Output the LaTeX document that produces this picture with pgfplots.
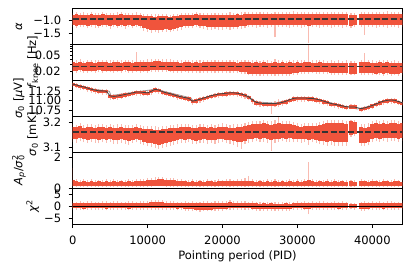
\documentclass[border=0pt]{standalone}
\usepackage{fontspec}
\setmainfont{DejaVu Sans}
\usepackage{pgfplots}
\pgfplotsset{compat=1.18}
\usepackage{pgfplotstable}
\usepgfplotslibrary{groupplots}
\definecolor{bandred}{RGB}{240,84,60}

\pgfplotstableread{
x lo hi lo2 hi2
0 -1.19 -0.80 -1.27 -0.72
500 -1.21 -0.79 -1.30 -0.70
1000 -1.18 -0.81 -1.26 -0.74
1500 -1.20 -0.80 -1.28 -0.71
2000 -1.22 -0.82 -1.31 -0.75
2500 -1.19 -0.79 -1.27 -0.70
3000 -1.20 -0.81 -1.29 -0.73
3500 -1.21 -0.80 -1.30 -0.72
4000 -1.18 -0.79 -1.26 -0.69
4500 -1.20 -0.81 -1.28 -0.74
5000 -1.22 -0.80 -1.33 -0.72
5500 -1.19 -0.82 -1.27 -0.75
6000 -1.21 -0.80 -1.29 -0.71
6500 -1.20 -0.79 -1.28 -0.70
7000 -1.22 -0.81 -1.32 -0.73
7500 -1.19 -0.80 -1.27 -0.72
8000 -1.21 -0.82 -1.30 -0.74
8500 -1.20 -0.80 -1.28 -0.71
9000 -1.23 -0.81 -1.31 -0.73
9500 -1.30 -0.84 -1.40 -0.76
10000 -1.35 -0.86 -1.45 -0.78
10500 -1.37 -0.85 -1.47 -0.77
11000 -1.36 -0.87 -1.46 -0.79
11500 -1.38 -0.86 -1.48 -0.78
12000 -1.37 -0.85 -1.45 -0.76
12500 -1.35 -0.86 -1.44 -0.78
13000 -1.36 -0.87 -1.46 -0.80
13500 -1.33 -0.85 -1.42 -0.77
14000 -1.30 -0.84 -1.40 -0.76
14500 -1.27 -0.83 -1.36 -0.75
15000 -1.23 -0.81 -1.31 -0.73
15500 -1.21 -0.80 -1.29 -0.72
16000 -1.22 -0.81 -1.30 -0.74
16500 -1.20 -0.79 -1.28 -0.71
17000 -1.23 -0.81 -1.31 -0.73
17500 -1.24 -0.80 -1.32 -0.72
18000 -1.27 -0.82 -1.36 -0.74
18500 -1.28 -0.81 -1.37 -0.73
19000 -1.26 -0.82 -1.35 -0.75
19500 -1.27 -0.80 -1.38 -0.72
20000 -1.28 -0.81 -1.36 -0.73
20500 -1.26 -0.82 -1.34 -0.74
21000 -1.27 -0.80 -1.37 -0.71
21500 -1.25 -0.81 -1.34 -0.73
22000 -1.26 -0.79 -1.35 -0.72
22500 -1.24 -0.80 -1.33 -0.71
23000 -1.22 -0.79 -1.30 -0.70
23500 -1.20 -0.78 -1.28 -0.69
24000 -1.19 -0.79 -1.27 -0.71
24500 -1.20 -0.78 -1.29 -0.70
25000 -1.18 -0.79 -1.26 -0.71
25500 -1.19 -0.77 -1.28 -0.69
26000 -1.20 -0.78 -1.29 -0.70
26500 -1.18 -0.79 -1.27 -0.72
27000 -1.19 -0.78 -1.65 -0.70
27500 -1.20 -0.77 -1.28 -0.69
28000 -1.18 -0.78 -1.27 -0.70
28500 -1.19 -0.79 -1.28 -0.71
29000 -1.20 -0.78 -1.29 -0.70
29500 -1.18 -0.77 -1.26 -0.68
30000 -1.19 -0.78 -1.28 -0.70
30500 -1.20 -0.79 -1.29 -0.71
31000 -1.19 -0.78 -1.27 -0.70
31500 -1.21 -0.78 -1.85 -0.69
32000 -1.19 -0.77 -1.28 -0.70
32500 -1.18 -0.78 -1.27 -0.71
33000 -1.20 -0.79 -1.29 -0.70
33500 -1.19 -0.77 -1.28 -0.69
34000 -1.18 -0.78 -1.26 -0.70
34500 -1.20 -0.77 -1.29 -0.69
35000 -1.19 -0.78 -1.28 -0.71
35500 -1.18 -0.77 -1.27 -0.70
36000 -1.20 -0.78 -1.29 -0.70
36500 -1.19 -0.79 -1.27 -0.71
37150 -1.22 -0.80 -1.30 -0.74
37650 -1.20 -0.81 -1.28 -0.75
38500 -1.19 -0.78 -1.28 -0.70
39000 -1.20 -0.77 -1.56 -0.69
39500 -1.18 -0.78 -1.27 -0.70
40000 -1.19 -0.77 -1.28 -0.69
40500 -1.20 -0.78 -1.29 -0.70
41000 -1.18 -0.77 -1.27 -0.69
41500 -1.19 -0.78 -1.28 -0.70
42000 -1.20 -0.77 -1.29 -0.68
42500 -1.18 -0.78 -1.27 -0.70
43000 -1.19 -0.77 -1.28 -0.69
43500 -1.20 -0.78 -1.29 -0.70
44000 -1.19 -0.77 -1.28 -0.69
}\tabA

\pgfplotstableread{
x lo hi lo2 hi2
0 0.0212 0.0335 0.0192 0.0380
500 0.0208 0.0330 0.0188 0.0372
1000 0.0214 0.0338 0.0195 0.0390
1500 0.0210 0.0328 0.0190 0.0368
2000 0.0206 0.0333 0.0186 0.0378
2500 0.0211 0.0336 0.0193 0.0385
3000 0.0209 0.0329 0.0189 0.0370
3500 0.0213 0.0334 0.0194 0.0382
4000 0.0207 0.0331 0.0187 0.0375
4500 0.0210 0.0337 0.0191 0.0388
5000 0.0212 0.0330 0.0193 0.0372
5500 0.0208 0.0335 0.0188 0.0380
6000 0.0211 0.0332 0.0192 0.0376
6500 0.0209 0.0328 0.0189 0.0369
7000 0.0213 0.0336 0.0195 0.0384
7500 0.0210 0.0333 0.0190 0.0378
8000 0.0207 0.0330 0.0186 0.0373
8500 0.0211 0.0338 0.0192 0.0600
9000 0.0209 0.0331 0.0189 0.0376
9500 0.0212 0.0335 0.0193 0.0381
10000 0.0210 0.0340 0.0190 0.0392
10500 0.0213 0.0345 0.0194 0.0398
11000 0.0215 0.0350 0.0196 0.0405
11500 0.0214 0.0352 0.0195 0.0410
12000 0.0216 0.0348 0.0197 0.0402
12500 0.0213 0.0346 0.0194 0.0396
13000 0.0211 0.0342 0.0192 0.0390
13500 0.0209 0.0337 0.0189 0.0383
14000 0.0210 0.0333 0.0190 0.0377
14500 0.0208 0.0330 0.0188 0.0372
15000 0.0211 0.0334 0.0192 0.0380
15500 0.0209 0.0331 0.0189 0.0375
16000 0.0206 0.0329 0.0185 0.0371
16500 0.0208 0.0333 0.0187 0.0379
17000 0.0205 0.0330 0.0184 0.0374
17500 0.0207 0.0335 0.0186 0.0383
18000 0.0204 0.0332 0.0183 0.0378
18500 0.0206 0.0336 0.0185 0.0386
19000 0.0205 0.0331 0.0184 0.0376
19500 0.0207 0.0334 0.0186 0.0381
20000 0.0206 0.0338 0.0185 0.0389
20500 0.0204 0.0333 0.0183 0.0379
21000 0.0207 0.0336 0.0186 0.0385
21500 0.0205 0.0332 0.0184 0.0377
22000 0.0203 0.0330 0.0182 0.0373
22500 0.0200 0.0334 0.0180 0.0381
23000 0.0195 0.0331 0.0175 0.0376
23500 0.0180 0.0333 0.0162 0.0379
24000 0.0176 0.0329 0.0158 0.0370
24500 0.0178 0.0331 0.0160 0.0375
25000 0.0175 0.0328 0.0157 0.0368
25500 0.0177 0.0332 0.0159 0.0377
26000 0.0174 0.0330 0.0156 0.0372
26500 0.0176 0.0327 0.0158 0.0366
27000 0.0175 0.0331 0.0157 0.0400
27500 0.0177 0.0329 0.0159 0.0370
28000 0.0174 0.0332 0.0156 0.0376
28500 0.0176 0.0328 0.0158 0.0368
29000 0.0178 0.0331 0.0160 0.0374
29500 0.0182 0.0329 0.0163 0.0370
30000 0.0190 0.0332 0.0170 0.0377
30500 0.0196 0.0330 0.0176 0.0372
31000 0.0200 0.0333 0.0180 0.0378
31500 0.0198 0.0335 0.0178 0.0850
32000 0.0201 0.0330 0.0181 0.0373
32500 0.0199 0.0328 0.0179 0.0369
33000 0.0197 0.0331 0.0177 0.0375
33500 0.0195 0.0329 0.0175 0.0371
34000 0.0193 0.0327 0.0173 0.0367
34500 0.0190 0.0330 0.0170 0.0373
35000 0.0188 0.0326 0.0168 0.0365
35500 0.0186 0.0329 0.0166 0.0371
36000 0.0188 0.0327 0.0168 0.0367
36500 0.0187 0.0330 0.0167 0.0372
37150 0.0180 0.0330 0.0165 0.0360
37650 0.0178 0.0326 0.0163 0.0355
38500 0.0185 0.0335 0.0166 0.0380
39000 0.0183 0.0338 0.0165 0.0550
39500 0.0181 0.0333 0.0163 0.0378
40000 0.0183 0.0330 0.0165 0.0372
40500 0.0180 0.0328 0.0162 0.0368
41000 0.0182 0.0331 0.0164 0.0374
41500 0.0179 0.0329 0.0161 0.0370
42000 0.0181 0.0332 0.0163 0.0376
42500 0.0178 0.0328 0.0160 0.0368
43000 0.0180 0.0330 0.0162 0.0372
43500 0.0179 0.0327 0.0161 0.0366
44000 0.0181 0.0329 0.0163 0.0370
}\tabB

\pgfplotstableread{
x c lo hi lo2 hi2
0 11.42 11.37 11.445 11.33 11.47
500 11.40 11.345 11.43 11.31 11.45
1000 11.37 11.31 11.395 11.28 11.42
1500 11.35 11.30 11.37 11.26 11.40
2000 11.32 11.26 11.345 11.23 11.37
2500 11.29 11.24 11.315 11.20 11.34
3000 11.27 11.21 11.295 11.18 11.32
3500 11.25 11.20 11.275 11.16 11.30
4000 11.25 11.19 11.27 11.15 11.30
4500 11.24 11.185 11.265 11.15 11.29
5000 11.12 11.065 11.145 11.03 11.17
5500 11.11 11.05 11.135 11.02 11.16
6000 11.12 11.065 11.145 11.03 11.17
6500 11.14 11.08 11.165 11.05 11.19
7000 11.16 11.105 11.185 11.07 11.21
7500 11.18 11.12 11.205 11.09 11.23
8000 11.20 11.145 11.225 11.11 11.25
8500 11.22 11.16 11.245 11.13 11.27
9000 11.22 11.165 11.245 11.13 11.27
9500 11.21 11.15 11.235 11.12 11.26
10000 11.20 11.145 11.225 11.11 11.25
10500 11.24 11.185 11.265 11.15 11.29
11000 11.29 11.23 11.315 11.20 11.34
11500 11.27 11.215 11.295 11.18 11.32
12000 11.23 11.17 11.255 11.14 11.28
12500 11.20 11.145 11.225 11.11 11.25
13000 11.18 11.12 11.205 11.09 11.23
13500 11.15 11.095 11.175 11.06 11.20
14000 11.12 11.06 11.145 11.03 11.17
14500 11.10 11.045 11.125 11.01 11.15
15000 11.08 11.02 11.105 10.99 11.13
15500 11.06 11.005 11.085 10.97 11.11
16000 10.99 10.935 11.015 10.90 11.04
16500 11.01 10.95 11.035 10.92 11.06
17000 11.04 10.985 11.065 10.95 11.09
17500 11.07 11.01 11.095 10.98 11.12
18000 11.10 11.045 11.125 11.01 11.15
18500 11.13 11.07 11.155 11.04 11.18
19000 11.15 11.095 11.175 11.06 11.20
19500 11.17 11.11 11.195 11.08 11.22
20000 11.18 11.125 11.205 11.09 11.23
20500 11.19 11.13 11.215 11.10 11.24
21000 11.20 11.145 11.225 11.11 11.25
21500 11.20 11.14 11.225 11.11 11.25
22000 11.19 11.135 11.215 11.10 11.24
22500 11.17 11.11 11.195 11.08 11.22
23000 11.14 11.085 11.165 11.05 11.19
23500 11.10 11.04 11.125 11.01 11.15
24000 11.02 10.965 11.045 10.93 11.07
24500 10.96 10.90 10.985 10.87 11.01
25000 10.94 10.885 10.965 10.85 10.99
25500 10.93 10.87 10.955 10.84 10.98
26000 10.93 10.875 10.955 10.84 10.98
26500 10.93 10.87 10.955 10.66 10.98
27000 10.93 10.875 10.955 10.84 11.00
27500 10.94 10.88 10.965 10.85 11.04
28000 10.96 10.905 10.985 10.87 11.01
28500 10.99 10.93 11.015 10.90 11.04
29000 11.03 10.975 11.055 10.94 11.08
29500 11.06 11.00 11.085 10.97 11.11
30000 11.07 11.015 11.095 10.98 11.12
30500 11.07 11.01 11.095 10.98 11.12
31000 11.07 11.015 11.095 10.98 11.12
31500 11.06 11.00 11.085 10.97 11.11
32000 11.06 11.005 11.085 10.97 11.11
32500 11.04 10.98 11.065 10.95 11.09
33000 11.02 10.965 11.045 10.93 11.07
33500 10.99 10.93 11.015 10.90 11.04
34000 10.96 10.905 10.985 10.87 11.01
34500 10.93 10.87 10.955 10.84 10.98
35000 10.91 10.855 10.935 10.82 10.96
35500 10.89 10.83 10.915 10.80 10.94
36000 10.87 10.815 10.895 10.78 10.92
36500 10.85 10.79 10.875 10.76 10.90
37150 10.84 10.80 10.90 10.78 10.92
37650 10.84 10.80 10.89 10.78 10.91
38500 10.80 10.745 10.825 10.71 10.85
39000 10.82 10.76 10.845 10.73 10.87
39500 10.85 10.795 10.875 10.76 10.90
40000 10.88 10.82 10.905 10.79 10.93
40500 10.92 10.865 10.945 10.83 10.97
41000 10.96 10.90 10.985 10.87 11.01
41500 10.99 10.935 11.015 10.90 11.04
42000 11.01 10.95 11.035 10.92 11.06
42500 11.02 10.965 11.045 10.93 11.07
43000 11.01 10.95 11.035 10.92 11.06
43500 10.98 10.925 11.005 10.89 11.03
44000 10.95 10.89 10.975 10.86 11.00
}\tabC

\pgfplotstableread{
x lo hi lo2 hi2
0 3.136 3.183 3.123 3.194
500 3.133 3.181 3.120 3.192
1000 3.138 3.185 3.125 3.197
1500 3.134 3.180 3.121 3.191
2000 3.131 3.182 3.118 3.195
2500 3.136 3.184 3.124 3.196
3000 3.133 3.179 3.120 3.190
3500 3.130 3.181 3.117 3.193
4000 3.134 3.183 3.121 3.195
4500 3.132 3.180 3.119 3.192
5000 3.135 3.182 3.122 3.194
5500 3.131 3.178 3.116 3.190
6000 3.129 3.180 3.114 3.193
6500 3.133 3.182 3.120 3.195
7000 3.130 3.179 3.116 3.191
7500 3.127 3.177 3.112 3.189
8000 3.131 3.180 3.118 3.192
8500 3.134 3.183 3.121 3.196
9000 3.130 3.179 3.116 3.190
9500 3.124 3.176 3.110 3.188
10000 3.120 3.175 3.105 3.187
10500 3.117 3.174 3.102 3.186
11000 3.114 3.172 3.098 3.185
11500 3.112 3.170 3.096 3.183
12000 3.115 3.173 3.099 3.186
12500 3.118 3.175 3.103 3.188
13000 3.122 3.177 3.107 3.190
13500 3.126 3.178 3.112 3.191
14000 3.130 3.180 3.116 3.193
14500 3.133 3.182 3.120 3.195
15000 3.131 3.181 3.118 3.194
15500 3.134 3.183 3.121 3.196
16000 3.130 3.180 3.116 3.192
16500 3.128 3.178 3.113 3.190
17000 3.131 3.181 3.117 3.194
17500 3.133 3.183 3.120 3.196
18000 3.129 3.180 3.115 3.192
18500 3.132 3.182 3.119 3.195
19000 3.130 3.179 3.116 3.191
19500 3.133 3.182 3.120 3.195
20000 3.135 3.184 3.122 3.197
20500 3.131 3.181 3.118 3.194
21000 3.129 3.179 3.115 3.192
21500 3.126 3.180 3.110 3.193
22000 3.122 3.182 3.104 3.195
22500 3.124 3.183 3.095 3.196
23000 3.128 3.185 3.114 3.198
23500 3.133 3.190 3.120 3.202
24000 3.136 3.194 3.123 3.206
24500 3.138 3.196 3.125 3.208
25000 3.135 3.195 3.122 3.207
25500 3.137 3.197 3.124 3.209
26000 3.133 3.194 3.118 3.206
26500 3.130 3.192 3.088 3.205
27000 3.134 3.196 3.120 3.210
27500 3.136 3.197 3.123 3.224
28000 3.138 3.195 3.125 3.207
28500 3.135 3.193 3.122 3.205
29000 3.137 3.194 3.124 3.206
29500 3.134 3.190 3.121 3.202
30000 3.136 3.186 3.123 3.198
30500 3.133 3.184 3.120 3.196
31000 3.135 3.186 3.122 3.198
31500 3.132 3.185 3.112 3.197
32000 3.134 3.187 3.121 3.199
32500 3.131 3.188 3.118 3.200
33000 3.128 3.190 3.114 3.202
33500 3.125 3.194 3.110 3.206
34000 3.123 3.197 3.108 3.209
34500 3.125 3.199 3.110 3.211
35000 3.122 3.198 3.106 3.210
35500 3.124 3.200 3.108 3.212
36000 3.121 3.197 3.105 3.209
36500 3.123 3.196 3.107 3.208
37150 3.152 3.205 3.142 3.212
37650 3.155 3.202 3.145 3.210
38500 3.120 3.182 3.108 3.195
39000 3.118 3.180 3.105 3.193
39500 3.122 3.184 3.110 3.197
40000 3.135 3.195 3.122 3.207
40500 3.138 3.197 3.125 3.209
41000 3.136 3.195 3.123 3.207
41500 3.139 3.198 3.126 3.210
42000 3.137 3.196 3.124 3.208
42500 3.140 3.199 3.127 3.211
43000 3.138 3.197 3.125 3.209
43500 3.136 3.195 3.123 3.207
44000 3.139 3.198 3.126 3.210
}\tabD

\pgfplotstableread{
x lo hi lo2 hi2
0 0.15 0.50 0.10 1.30
500 0.13 0.45 0.09 0.60
1000 0.12 0.43 0.08 0.55
1500 0.13 0.44 0.09 0.57
2000 0.12 0.42 0.08 0.54
2500 0.13 0.45 0.09 0.58
3000 0.12 0.43 0.08 0.55
3500 0.13 0.44 0.09 0.56
4000 0.12 0.42 0.08 0.54
4500 0.13 0.45 0.09 0.58
5000 0.12 0.43 0.08 0.55
5500 0.13 0.44 0.09 0.57
6000 0.12 0.42 0.08 0.53
6500 0.13 0.44 0.09 0.56
7000 0.12 0.43 0.08 0.55
7500 0.13 0.45 0.09 0.58
8000 0.12 0.42 0.08 0.54
8500 0.13 0.44 0.09 0.57
9000 0.12 0.45 0.08 0.58
9500 0.13 0.47 0.09 0.60
10000 0.14 0.50 0.10 0.63
10500 0.15 0.53 0.10 0.67
11000 0.15 0.56 0.11 0.70
11500 0.16 0.58 0.11 0.72
12000 0.15 0.57 0.11 0.70
12500 0.15 0.55 0.10 0.68
13000 0.14 0.53 0.10 0.66
13500 0.14 0.51 0.10 0.64
14000 0.13 0.48 0.09 0.61
14500 0.13 0.46 0.09 0.59
15000 0.12 0.44 0.08 0.56
15500 0.13 0.43 0.09 0.55
16000 0.12 0.44 0.08 0.57
16500 0.13 0.42 0.09 0.54
17000 0.12 0.44 0.08 0.56
17500 0.13 0.43 0.09 0.55
18000 0.12 0.45 0.08 0.58
18500 0.13 0.44 0.09 0.56
19000 0.12 0.43 0.08 0.55
19500 0.13 0.45 0.09 0.57
20000 0.12 0.44 0.08 0.56
20500 0.13 0.46 0.09 0.59
21000 0.12 0.45 0.08 0.58
21500 0.13 0.44 0.09 0.56
22000 0.12 0.46 0.08 0.60
22500 0.13 0.47 0.09 0.62
23000 0.13 0.48 0.09 0.65
23500 0.12 0.46 0.08 0.82
24000 0.13 0.44 0.09 0.57
24500 0.12 0.43 0.08 0.55
25000 0.13 0.44 0.09 0.56
25500 0.12 0.42 0.08 0.54
26000 0.13 0.44 0.09 0.57
26500 0.12 0.43 0.08 0.55
27000 0.13 0.45 0.09 0.58
27500 0.12 0.43 0.08 0.55
28000 0.13 0.44 0.09 0.56
28500 0.12 0.42 0.08 0.54
29000 0.13 0.44 0.09 0.57
29500 0.12 0.43 0.08 0.55
30000 0.13 0.45 0.09 0.58
30500 0.12 0.43 0.08 0.56
31000 0.13 0.46 0.09 0.62
31500 0.13 0.50 0.09 1.70
32000 0.12 0.44 0.08 0.57
32500 0.13 0.43 0.09 0.55
33000 0.12 0.44 0.08 0.56
33500 0.13 0.42 0.09 0.54
34000 0.12 0.44 0.08 0.57
34500 0.13 0.43 0.09 0.55
35000 0.12 0.45 0.08 0.58
35500 0.13 0.43 0.09 0.55
36000 0.12 0.44 0.08 0.56
36500 0.13 0.42 0.09 0.54
37150 0.12 0.44 0.08 0.55
37650 0.13 0.43 0.09 0.54
38500 0.12 0.45 0.08 0.58
39000 0.13 0.44 0.09 0.56
39500 0.12 0.43 0.08 0.55
40000 0.13 0.45 0.09 0.57
40500 0.12 0.44 0.08 0.56
41000 0.13 0.43 0.09 0.55
41500 0.12 0.45 0.08 0.58
42000 0.13 0.44 0.09 0.56
42500 0.12 0.43 0.08 0.55
43000 0.13 0.45 0.09 0.57
43500 0.12 0.44 0.08 0.56
44000 0.13 0.43 0.09 0.55
}\tabE

\pgfplotstableread{
x lo hi lo2 hi2
0 -0.6 1.5 -1.3 2.2
500 -0.8 1.4 -1.5 2.0
1000 -0.7 1.6 -1.4 2.3
1500 -0.9 1.5 -1.6 2.1
2000 -0.7 1.4 -1.4 2.2
2500 -0.8 1.6 -1.5 2.4
3000 -0.6 1.5 -1.3 2.1
3500 -0.8 1.4 -1.5 2.0
4000 -0.7 1.5 -1.4 2.2
4500 -0.9 1.6 -1.6 2.3
5000 -0.7 1.4 -1.4 2.1
5500 -0.8 1.5 -1.5 2.2
6000 -0.6 1.6 -1.3 2.4
6500 -0.8 1.5 -1.5 2.1
7000 -0.7 1.4 -1.4 2.0
7500 -0.9 1.5 -1.6 2.2
8000 -0.7 1.6 -1.4 2.3
8500 -0.8 1.5 -1.5 2.1
9000 -0.7 1.4 -1.4 2.2
9500 -0.8 1.6 -1.5 2.4
10000 -0.7 1.7 -1.4 2.5
10500 -0.8 1.8 -1.5 2.6
11000 -0.7 1.9 -1.4 2.7
11500 -0.8 1.8 -1.5 2.6
12000 -0.7 1.9 -1.4 2.8
12500 -0.8 1.7 -1.5 2.5
13000 -0.7 1.6 -1.4 2.4
13500 -0.8 1.5 -1.5 2.2
14000 -0.9 1.5 -1.6 2.1
14500 -0.8 1.4 -1.5 2.0
15000 -0.9 1.5 -1.7 2.2
15500 -1.0 1.4 -1.8 2.1
16000 -1.2 1.5 -1.9 2.2
16500 -1.3 1.4 -2.0 2.0
17000 -1.4 1.5 -2.2 2.1
17500 -1.3 1.6 -2.0 2.3
18000 -1.4 1.5 -2.1 2.2
18500 -1.3 1.4 -2.0 2.0
19000 -1.2 1.6 -1.9 2.3
19500 -1.1 1.5 -1.8 2.2
20000 -1.0 1.6 -1.7 2.4
20500 -0.9 1.7 -1.6 2.5
21000 -0.8 1.8 -1.5 2.8
21500 -0.8 1.6 -1.5 2.4
22000 -0.7 1.5 -1.4 2.2
22500 -0.8 1.6 -1.5 2.3
23000 -0.7 1.5 -1.4 2.2
23500 -0.8 1.4 -1.5 2.1
24000 -0.9 1.5 -1.6 2.2
24500 -1.0 1.4 -1.7 2.0
25000 -1.1 1.3 -1.8 2.0
25500 -1.0 1.4 -1.8 2.1
26000 -1.1 1.3 -1.9 1.9
26500 -1.0 1.4 -1.8 2.0
27000 -1.1 1.3 -1.9 2.0
27500 -1.2 1.2 -2.0 1.9
28000 -1.1 1.3 -1.9 2.0
28500 -1.0 1.4 -1.8 2.1
29000 -0.9 1.3 -1.7 2.0
29500 -0.8 1.4 -1.5 2.1
30000 -0.7 1.5 -1.4 2.2
30500 -0.8 1.4 -1.5 2.1
31000 -0.9 1.5 -1.6 2.2
31500 -1.0 1.4 -3.3 2.1
32000 -0.8 1.5 -1.5 2.2
32500 -0.7 1.4 -1.4 2.0
33000 -0.8 1.5 -1.5 2.2
33500 -0.7 1.6 -1.4 2.3
34000 -0.8 1.5 -1.5 2.1
34500 -0.7 1.4 -1.4 2.0
35000 -0.8 1.5 -1.5 2.2
35500 -0.9 1.4 -1.6 2.1
36000 -0.8 1.5 -1.5 2.2
36500 -0.7 1.4 -1.4 2.0
37150 -0.6 1.2 -1.2 1.7
37650 -0.7 1.1 -1.3 1.6
38500 -0.9 1.4 -1.7 2.1
39000 -1.0 1.5 -1.8 2.2
39500 -0.9 1.4 -1.6 2.1
40000 -0.8 1.5 -1.5 2.2
40500 -0.7 1.4 -1.4 2.0
41000 -0.8 1.5 -1.5 2.2
41500 -0.9 1.4 -1.6 2.1
42000 -0.8 1.5 -1.5 2.2
42500 -0.7 1.6 -1.4 2.3
43000 -0.8 1.5 -1.5 2.1
43500 -0.7 1.4 -1.4 2.0
44000 -0.8 1.5 -1.5 2.2
}\tabF

\pgfplotsset{
  fringe/.style={draw=none, mark=none, forget plot,
    error bars/.cd, y dir=plus, y explicit, error mark=none,
    error bar style={draw=bandred, draw opacity=0.4, line width=1.1bp}},
  band/.style={draw=none, mark=none, forget plot,
    error bars/.cd, y dir=plus, y explicit, error mark=none,
    error bar style={draw=bandred, line width=3.8bp}},
  meanline/.style={black!80, line width=1.5bp, dash pattern=on 6bp off 2.6bp, forget plot},
  oddlab/.style={ylabel style={at={([xshift=-53.7bp]rel axis cs:0,0.5)}, anchor=center}},
  evenlab/.style={ylabel style={at={([xshift=-40bp]rel axis cs:0,0.5)}, anchor=center}},
}

\newcommand{\sub}[1]{\textsubscript{#1}}
\newcommand{\sups}[1]{\textsuperscript{#1}}

\begin{document}
\begin{tikzpicture}[font=\fontsize{11.5bp}{13.8bp}\selectfont]
\begin{groupplot}[
  group style={group size=1 by 6, vertical sep=0pt},
  width=329.6bp, height=35.95bp, scale only axis,
  xmin=0, xmax=44000, xtick=\empty, scaled x ticks=false, scaled y ticks=false,
  tick align=outside, ytick pos=left, xtick pos=bottom,
  axis line style={line width=0.8bp},
  major tick length=4bp, minor tick length=2.3bp,
  every tick/.style={black, line width=0.8bp},
  yticklabel style={xshift=-4bp},
  xticklabel style={yshift=-4bp},
]
% alpha
\nextgroupplot[oddlab, ylabel={\textit{α}}, ymin=-1.91, ymax=-0.56,
  ytick={-1.5,-1.0}, yticklabels={−1.5,−1.0}]
\addplot[gray, line width=1bp, forget plot] coordinates {(0,-0.965) (44000,-0.965)};
\addplot[fringe] table[x=x, y=lo2, y error expr=\thisrow{hi2}-\thisrow{lo2}] {\tabA};
\addplot[band] table[x=x, y=lo, y error expr=\thisrow{hi}-\thisrow{lo}] {\tabA};
\addplot[meanline] coordinates {(0,-0.965) (44000,-0.965)};
\coordinate (tr) at (rel axis cs:1,1);
% fknee
\nextgroupplot[evenlab, ylabel={\textit{f}\sub{knee} [Hz]}, ymode=log, ymin=0.0125, ymax=0.09,
  ytick={0.02,0.05}, yticklabels={0.02,0.05},
  minor ytick={0.03,0.04,0.06,0.07,0.08,0.09}, major tick length=2.3bp,
  yticklabel style={xshift=-2.3bp}]
\addplot[gray, line width=1bp, forget plot] coordinates {(0,0.0263) (44000,0.0263)};
\addplot[fringe] table[x=x, y=lo2, y error expr=\thisrow{hi2}-\thisrow{lo2}] {\tabB};
\addplot[band] table[x=x, y=lo, y error expr=\thisrow{hi}-\thisrow{lo}] {\tabB};
\addplot[meanline] coordinates {(0,0.0263) (44000,0.0263)};
% sigma0 muV
\nextgroupplot[oddlab, ylabel={\textit{σ}\sub{0} [\textit{μ}V]}, ymin=10.61, ymax=11.52,
  ytick={10.75,11.00,11.25}, yticklabels={10.75,11.00,11.25}]
\addplot[gray!80, line width=0.8bp, forget plot] coordinates {(0,11.43) (2500,11.30) (4900,11.24) (5100,11.13) (8000,11.21) (11000,11.29) (13000,11.20) (15800,11.07) (16000,11.00) (19500,11.17) (22000,11.20) (24500,10.97) (27000,10.94) (30000,11.07) (32000,11.07) (35000,10.92) (37000,10.83) (38000,10.79) (40000,10.88) (42500,11.02) (44000,10.95)};
\addplot[fringe] table[x=x, y=lo2, y error expr=\thisrow{hi2}-\thisrow{lo2}] {\tabC};
\addplot[band] table[x=x, y=lo, y error expr=\thisrow{hi}-\thisrow{lo}] {\tabC};
\addplot[black!75, line width=0.8bp, forget plot] table[x=x, y=c] {\tabC};
% sigma0 mK
\nextgroupplot[evenlab, ylabel={\textit{σ}\sub{0} [mK]}, ymin=3.082, ymax=3.226,
  ytick={3.1,3.2}, yticklabels={3.1,3.2}]
\addplot[gray, line width=1bp, forget plot] coordinates {(0,3.162) (44000,3.162)};
\addplot[fringe] table[x=x, y=lo2, y error expr=\thisrow{hi2}-\thisrow{lo2}] {\tabD};
\addplot[band] table[x=x, y=lo, y error expr=\thisrow{hi}-\thisrow{lo}] {\tabD};
\addplot[meanline] coordinates {(0,3.162) (44000,3.162)};
% Ap/sigma0^2
\nextgroupplot[oddlab, ylabel={\textit{A}\sub{\textit{p}}/\textit{σ}\rlap{\sups{2}}\sub{0}}, ymin=0, ymax=2.37,
  ytick={0,2}, yticklabels={0,2}]
\addplot[fringe] table[x=x, y=lo2, y error expr=\thisrow{hi2}-\thisrow{lo2}] {\tabE};
\addplot[band] table[x=x, y=lo, y error expr=\thisrow{hi}-\thisrow{lo}] {\tabE};
\addplot[black, line width=1bp, forget plot] coordinates {(0,0) (44000,0)};
% chi2
\nextgroupplot[evenlab, ylabel={\textit{χ}\sups{2}}, ymin=-7.45, ymax=7.9,
  ytick={-5,0,5}, yticklabels={−5,0,5},
  xtick={0,10000,20000,30000,40000}, xticklabels={0,10000,20000,30000,40000},
  xlabel={Pointing period (PID)}]
\addplot[fringe] table[x=x, y=lo2, y error expr=\thisrow{hi2}-\thisrow{lo2}] {\tabF};
\addplot[band] table[x=x, y=lo, y error expr=\thisrow{hi}-\thisrow{lo}] {\tabF};
\addplot[black, line width=1bp, forget plot] coordinates {(0,0) (44000,0)};
\coordinate (bl) at (rel axis cs:0,0);
\end{groupplot}
\pgfresetboundingbox
\path ([shift={(-72.7bp,-45bp)}]bl) rectangle ([shift={(8.7bp,8.3bp)}]tr);
\end{tikzpicture}
\end{document}
